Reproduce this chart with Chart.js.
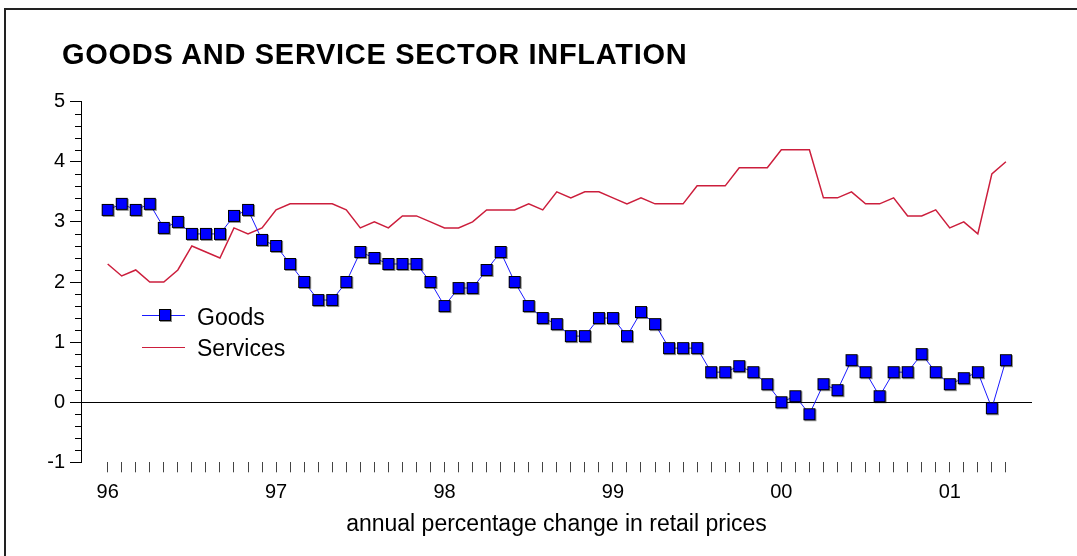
<!DOCTYPE html>
<html><head><meta charset="utf-8">
<script src="https://cdn.jsdelivr.net/npm/chart.js@4/dist/chart.umd.min.js"></script>
<style>
html,body{margin:0;padding:0;background:#fff;}
#wrap{position:relative;width:1077px;height:556px;overflow:hidden;font-family:"Liberation Sans",Arial,sans-serif;background:#fff;}
canvas{position:absolute;left:0;top:0;}
#frame{position:absolute;left:4px;top:8px;width:1100px;height:600px;border-top:2px solid #222;border-left:2px solid #222;pointer-events:none;}
#title{position:absolute;left:62px;top:40px;font-weight:bold;font-size:29px;line-height:29px;letter-spacing:0.7px;color:#000;white-space:nowrap;}
.leg{position:absolute;left:142px;width:220px;height:23px;}
.leg .line{position:absolute;left:0;width:43px;}
.leg .sq{position:absolute;left:17px;top:3px;width:12px;height:12px;box-sizing:border-box;background:#0000ff;border:1px solid #000;box-shadow:1px 1px 0 rgba(0,0,0,0.45);}
.leg .txt{position:absolute;left:55px;top:0;font-size:23px;line-height:23px;color:#000;white-space:nowrap;}
</style>
</head>
<body>
<div id="wrap">
<canvas id="c" width="1077" height="556"></canvas>
<div id="frame"></div>
<div id="title">GOODS AND SERVICE SECTOR INFLATION</div>
<div class="leg" style="top:305.5px;">
  <div class="line" style="top:9px;height:1px;background:#1a1aff;"></div>
  <div class="sq"></div>
  <div class="txt">Goods</div>
</div>
<div class="leg" style="top:336.5px;">
  <div class="line" style="top:10px;height:1.5px;background:#cc1e3c;"></div>
  <div class="txt">Services</div>
</div>
</div>
<script>
// Monthly observations, Jan 1996 - May 2001
const months = [
 '1996-01','1996-02','1996-03','1996-04','1996-05','1996-06','1996-07','1996-08','1996-09','1996-10','1996-11','1996-12',
 '1997-01','1997-02','1997-03','1997-04','1997-05','1997-06','1997-07','1997-08','1997-09','1997-10','1997-11','1997-12',
 '1998-01','1998-02','1998-03','1998-04','1998-05','1998-06','1998-07','1998-08','1998-09','1998-10','1998-11','1998-12',
 '1999-01','1999-02','1999-03','1999-04','1999-05','1999-06','1999-07','1999-08','1999-09','1999-10','1999-11','1999-12',
 '2000-01','2000-02','2000-03','2000-04','2000-05','2000-06','2000-07','2000-08','2000-09','2000-10','2000-11','2000-12',
 '2001-01','2001-02','2001-03','2001-04','2001-05'
];
const goods = [
 3.2,3.3,3.2,3.3,2.9,3.0,2.8,2.8,2.8,3.1,3.2,2.7,
 2.6,2.3,2.0,1.7,1.7,2.0,2.5,2.4,2.3,2.3,2.3,2.0,
 1.6,1.9,1.9,2.2,2.5,2.0,1.6,1.4,1.3,1.1,1.1,1.4,
 1.4,1.1,1.5,1.3,0.9,0.9,0.9,0.5,0.5,0.6,0.5,0.3,
 0.0,0.1,-0.2,0.3,0.2,0.7,0.5,0.1,0.5,0.5,0.8,0.5,
 0.3,0.4,0.5,-0.1,0.7
];
const services = [
 2.3,2.1,2.2,2.0,2.0,2.2,2.6,2.5,2.4,2.9,2.8,2.9,
 3.2,3.3,3.3,3.3,3.3,3.2,2.9,3.0,2.9,3.1,3.1,3.0,
 2.9,2.9,3.0,3.2,3.2,3.2,3.3,3.2,3.5,3.4,3.5,3.5,
 3.4,3.3,3.4,3.3,3.3,3.3,3.6,3.6,3.6,3.9,3.9,3.9,
 4.2,4.2,4.2,3.4,3.4,3.5,3.3,3.3,3.4,3.1,3.1,3.2,
 2.9,3.0,2.8,3.8,4.0
];
const yearLabels = ['96','97','98','99','00','01'];
const yTickLabels = ['-1','0','1','2','3','4','5'];
const yMinorStep = 0.2;

const FONT = '"Liberation Sans", Arial, sans-serif';
const isInt = v => Math.abs(v - Math.round(v)) < 1e-6;

// Square marker with a light drop shadow, used as the Goods point style
function makeMarker() {
  const c = document.createElement('canvas');
  c.width = 16; c.height = 16;
  const g = c.getContext('2d');
  g.fillStyle = 'rgba(0,0,0,0.45)';
  g.fillRect(3, 3, 12, 12);
  g.fillStyle = '#000';
  g.fillRect(2, 2, 12, 12);
  g.fillStyle = '#0000ff';
  g.fillRect(3, 3, 10, 10);
  return c;
}
const goodsMarker = makeMarker();

const minorTicks = {
  id: 'minorTicks',
  afterDraw(chart) {
    const s = chart.scales.y, ctx = chart.ctx;
    ctx.save();
    ctx.strokeStyle = '#000';
    ctx.lineWidth = 1;
    s.ticks.forEach(t => {
      if (!isInt(t.value)) {
        const y = Math.round(s.getPixelForValue(t.value)) + 0.5;
        ctx.beginPath();
        ctx.moveTo(s.right - 6, y);
        ctx.lineTo(s.right, y);
        ctx.stroke();
      }
    });
    ctx.restore();
  }
};

new Chart(document.getElementById('c'), {
  type: 'line',
  data: {
    datasets: [
      {
        label: 'Goods',
        data: goods.map((v, i) => ({x: i, y: v})),
        borderColor: '#1a1aff',
        borderWidth: 1,
        pointStyle: goodsMarker,
        pointRadius: 8,
        tension: 0
      },
      {
        label: 'Services',
        data: services.map((v, i) => ({x: i, y: v})),
        borderColor: '#cc1e3c',
        borderWidth: 1.5,
        pointRadius: 0,
        tension: 0
      }
    ]
  },
  options: {
    responsive: false,
    animation: false,
    events: [],
    layout: {padding: {left: 0, right: 45, top: 101.7, bottom: 0}},
    plugins: {legend: {display: false}, title: {display: false}, tooltip: {enabled: false}},
    scales: {
      x: {
        type: 'linear', min: -1.9, max: 65.86,
        afterBuildTicks: s => { s.ticks = months.map((m, i) => ({value: i})); },
        afterFit: s => { s.height = 93.7; },
        ticks: {
          autoSkip: false, maxRotation: 0, minRotation: 0, padding: 8,
          font: {family: FONT, size: 20}, color: '#000',
          callback: v => (v % 12 === 0 ? yearLabels[v / 12] : '')
        },
        grid: {display: true, drawOnChartArea: false, drawTicks: true, tickLength: 10, tickColor: '#444', tickWidth: 1},
        border: {display: false},
        title: {
          display: true, text: 'annual percentage change in retail prices',
          font: {family: FONT, size: 23}, color: '#000', padding: {top: 0, bottom: 18}
        }
      },
      y: {
        min: -1, max: 5,
        afterBuildTicks: s => {
          const t = [];
          const lo = Number(yTickLabels[0]), hi = Number(yTickLabels[yTickLabels.length - 1]);
          const n = Math.round((hi - lo) / yMinorStep);
          for (let i = 0; i <= n; i++) t.push({value: Math.round((lo + i * yMinorStep) * 10) / 10});
          s.ticks = t;
        },
        afterFit: s => { s.width = 81; },
        ticks: {
          autoSkip: false, padding: 5, font: {family: FONT, size: 20}, color: '#000',
          callback: v => (isInt(v) ? yTickLabels[Math.round(v) + 1] : '')
        },
        grid: {
          color: c => (c.tick && Math.abs(c.tick.value) < 1e-6 ? '#000' : 'rgba(0,0,0,0)'),
          tickColor: c => (c.tick && isInt(c.tick.value) ? '#000' : 'rgba(0,0,0,0)'),
          tickLength: 11, lineWidth: 1
        },
        border: {display: true, color: '#000', width: 1}
      }
    }
  },
  plugins: [minorTicks]
});
</script>
</body></html>
